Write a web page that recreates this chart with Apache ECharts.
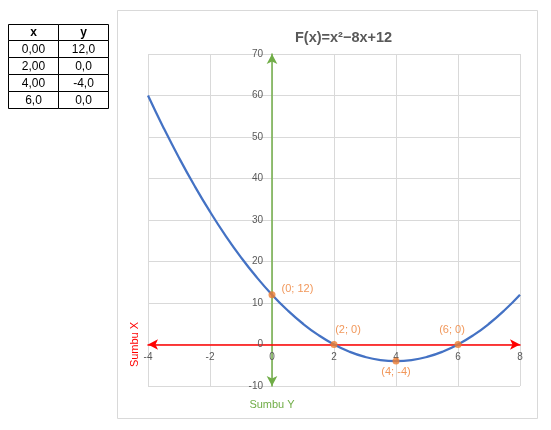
<!DOCTYPE html>
<html>
<head>
<meta charset="utf-8">
<script src="https://cdn.jsdelivr.net/npm/echarts@6/dist/echarts.min.js"></script>
<style>
html,body{margin:0;padding:0;background:#fff;}
#chart{width:551px;height:430px;}
</style>
</head>
<body>
<div id="chart"></div>
<script>
// Curve samples (x, y) read from the plotted parabola
const curveX = [-4, -3.5, -3, -2.5, -2, -1.5, -1, -0.5, 0, 0.5, 1, 1.5, 2, 2.5, 3, 3.5, 4, 4.5, 5, 5.5, 6, 6.5, 7, 7.5, 8];
const curveY = [60, 52.25, 45, 38.25, 32, 26.25, 21, 16.25, 12, 8.25, 5, 2.25, 0, -1.75, -3, -3.75, -4, -3.75, -3, -1.75, 0, 2.25, 5, 8.25, 12];
// Highlighted points
const pointX = [0, 2, 4, 6];
const pointY = [12, 0, -4, 0];
const pointLabels = ['(0; 12)', '(2; 0)', '(4; -4)', '(6; 0)'];
// Table content
const tableHeader = ['x', 'y'];
const tableX = ['0,00', '2,00', '4,00', '6,0'];
const tableY = ['12,0', '0,0', '-4,0', '0,0'];
const titleText = 'F(x)=x\u00B2\u22128x+12';

const gridLeft = 148, gridTop = 54, gridW = 372, gridH = 332;
const xMin = -4, xMax = 8, yMin = -10, yMax = 70;

const chart = echarts.init(document.getElementById('chart'), null, {renderer: 'canvas'});

const labelPos = ['right', 'top', 'bottom', 'top'];
const labelOffset = [[0, -6], [14, 0], [0, -4], [-6, 0]];

const graphics = [];
graphics.push({type: 'rect', shape: {x: 117.5, y: 10.5, width: 420, height: 408},
  style: {fill: 'none', stroke: '#D9D9D9', lineWidth: 1}, z: 0});
const colX = [8, 58, 108];
const rowY = [24.5, 40.5, 57.5, 74.5, 91.5, 108.5];
for (let r = 0; r < rowY.length - 1; r++) {
  for (let c = 0; c < 2; c++) {
    graphics.push({type: 'rect', shape: {x: colX[c] + 0.5, y: rowY[r], width: colX[c + 1] - colX[c], height: rowY[r + 1] - rowY[r]},
      style: {fill: '#fff', stroke: '#000', lineWidth: 1}});
    let txt;
    if (r === 0) txt = tableHeader[c];
    else txt = c === 0 ? tableX[r - 1] : tableY[r - 1];
    graphics.push({type: 'text', x: (colX[c] + colX[c + 1]) / 2 + 0.5, y: (rowY[r] + rowY[r + 1]) / 2 + 0.5,
      style: {text: txt, fill: '#000', font: (r === 0 ? 'bold ' : '') + '12px "Liberation Sans", Arial, sans-serif',
        align: 'center', verticalAlign: 'middle'}});
  }
}

// Offsets that move each axis (with its labels) onto the other axis' zero
const xAxisOffset = -(0 - yMin) / (yMax - yMin) * gridH;
const yAxisOffset = -(0 - xMin) / (xMax - xMin) * gridW;

const option = {
  animation: false,
  backgroundColor: '#fff',
  title: {
    text: titleText,
    left: 290, top: 25,
    textStyle: {fontFamily: '"Liberation Sans", Arial, sans-serif', fontSize: 14.5, fontWeight: 'bold', color: '#595959'}
  },
  grid: {left: gridLeft, top: gridTop, width: gridW, height: gridH},
  xAxis: {
    type: 'value', min: xMin, max: xMax, interval: 2, position: 'bottom', offset: xAxisOffset,
    axisLine: {onZero: false, lineStyle: {color: '#FF0000', width: 1.5}, symbol: ['arrow', 'arrow'], symbolSize: [8, 10]},
    axisTick: {show: false},
    axisLabel: {color: '#595959', fontSize: 10, margin: 8, fontFamily: '"Liberation Sans", Arial, sans-serif'},
    splitLine: {show: true, lineStyle: {color: '#D9D9D9', width: 1}},
    name: 'Sumbu X', nameLocation: 'start', nameRotate: 90, nameGap: 7,
    nameTextStyle: {color: '#FF0000', fontSize: 11, fontFamily: '"Liberation Sans", Arial, sans-serif', verticalAlign: 'middle', align: 'center'}
  },
  yAxis: {
    type: 'value', min: yMin, max: yMax, interval: 10, position: 'left', offset: yAxisOffset,
    axisLine: {onZero: false, lineStyle: {color: '#70AD47', width: 1.5}, symbol: ['arrow', 'arrow'], symbolSize: [8, 10]},
    axisTick: {show: false},
    axisLabel: {color: '#595959', fontSize: 10, margin: 9, fontFamily: '"Liberation Sans", Arial, sans-serif'},
    splitLine: {show: true, lineStyle: {color: '#D9D9D9', width: 1}},
    name: 'Sumbu Y', nameLocation: 'start', nameGap: 19,
    nameTextStyle: {color: '#70AD47', fontSize: 11, fontFamily: '"Liberation Sans", Arial, sans-serif', verticalAlign: 'middle', align: 'center'}
  },
  series: [
    {
      type: 'line', smooth: true, showSymbol: false,
      data: curveX.map((x, i) => [x, curveY[i]]),
      lineStyle: {color: '#4472C4', width: 2.25},
      z: 3
    },
    {
      type: 'scatter', symbolSize: 7,
      data: pointX.map((x, i) => ({
        value: [x, pointY[i]],
        label: {show: true, formatter: pointLabels[i], position: labelPos[i], offset: labelOffset[i]}
      })),
      itemStyle: {color: '#ED7D31'},
      label: {color: '#ED7D31', fontSize: 11, distance: 6, fontFamily: '"Liberation Sans", Arial, sans-serif'},
      z: 4
    }
  ],
  graphic: graphics
};
chart.setOption(option);
</script>
</body>
</html>
